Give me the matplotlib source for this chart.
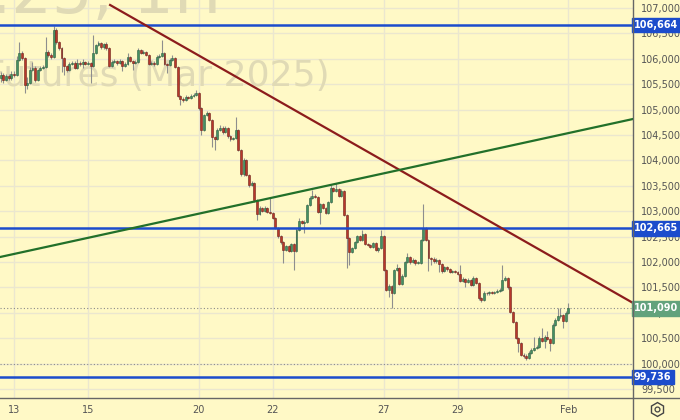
import matplotlib
matplotlib.use("Agg")
import matplotlib.pyplot as plt
import matplotlib.transforms as mtransforms
from matplotlib.lines import Line2D
import numpy as np

# ---------------- data (hourly candles, Jan 10 .. Feb 3) ----------------
first_open = 105620
closes = [
    105680, 105585, 105660, 105620, 105700,
    105680, 105975, 106115, 106015, 105485, 105525, 105780, 105820, 105585, 105780, 105820, 105840, 106135, 106075,
    106035, 106565, 106330, 106215, 106015, 105860, 105780, 105900, 105915, 105820, 105915, 105900, 105935, 105900,
    105915, 105860, 106115, 106270, 106310, 106230, 106290, 106215, 105860, 105935, 105955, 105915, 105955, 105860,
    105900, 106035, 105955, 105915, 105935, 106175, 106115, 106135, 106075, 105900, 105915, 105900, 106035, 106055,
    106115, 105900, 105880, 105975, 106015, 105840, 105270, 105210, 105190, 105250, 105230, 105270, 105285, 105325,
    105030, 104600, 104895, 104935, 104795, 104460, 104420, 104600, 104640, 104560, 104640, 104480, 104420, 104440,
    104600, 104205, 103730, 104010, 103715, 103515, 103555, 103220, 102945, 103065, 103005, 103065, 102985, 102965,
    102865, 102670, 102510, 102395, 102235, 102315, 102215, 102355, 102215, 102630, 102805, 102770, 102785, 103120,
    103260, 103300, 103280, 102985, 103140, 103065, 102965, 103180, 103455, 103400, 103435, 103300, 103400, 102925,
    102470, 102195, 102275, 102395, 102510, 102435, 102550, 102355, 102335, 102295, 102375, 102235, 102275, 102510,
    101845, 101450, 101530, 101390, 101845, 101880, 101565, 101725, 102000, 102100, 102000, 102040, 101980, 101985,
    102435, 102670, 102435, 102080, 102060, 102020, 102040, 101960, 101825, 101900, 101860, 101805, 101825, 101810,
    101765, 101625, 101665, 101605, 101645, 101545, 101685, 101585, 101290, 101250, 101390, 101385, 101410, 101390,
    101410, 101430, 101450, 101645, 101685, 101510, 101015, 100820, 100505, 100405, 100170, 100150, 100110, 100210,
    100270, 100305, 100325, 100505, 100445, 100525, 100485, 100405, 100760, 100860, 100935, 100955, 100840, 100995,
    101090,
]
highs = [
    105740, 105720, 105700, 105710, 105760,
    105760, 106060, 106330, 106150, 106040, 105640, 105830, 105930, 105850, 105800, 105860, 105880, 106430, 106170,
    106110, 106645, 106600, 106350, 106240, 106040, 105880, 105930, 105960, 105950, 105990, 105950, 105990, 105960,
    105950, 105940, 106470, 106300, 106350, 106330, 106320, 106330, 106240, 105970, 105990, 105980, 105990, 105980,
    105940, 106115, 106060, 105980, 105970, 106220, 106200, 106170, 106160, 106090, 105950, 105950, 106070, 106090,
    106370, 106130, 105920, 106010, 106075, 106030, 105860, 105290, 105240, 105280, 105270, 105300, 105320, 105385,
    105340, 105050, 104920, 104970, 104960, 104810, 104480, 104640, 104690, 104670, 104680, 104660, 104500, 104470,
    104855, 104620, 104230, 104050, 104030, 103740, 103600, 103570, 103240, 103100, 103090, 103100, 103090, 103280,
    102990, 102890, 102690, 102530, 102410, 102340, 102340, 102380, 102370, 102660, 102860, 102830, 102820, 103150,
    103300, 103420, 103330, 103300, 103170, 103160, 103090, 103210, 103515, 103480, 103555, 103450, 103430, 103420,
    102950, 102490, 102300, 102420, 102540, 102530, 102630, 102570, 102380, 102360, 102400, 102390, 102300, 102630,
    102530, 101860, 101560, 101550, 101870, 101960, 101900, 101760, 102020, 102180, 102120, 102070, 102060, 102010,
    102460, 103140, 102690, 102450, 102100, 102090, 102070, 102060, 101980, 101930, 101920, 101880, 101850, 101850,
    101830, 101950, 101700, 101690, 101680, 101670, 101720, 101710, 101600, 101310, 101420, 101410, 101430, 101420,
    101430, 101460, 101480, 101940, 101730, 101700, 101530, 101040, 100840, 100520, 100430, 100200, 100180, 100240,
    100300, 100520, 100360, 100540, 100700, 100560, 100640, 100510, 100790, 100900, 101090, 101090, 100980, 101030,
    101190,
]
lows = [
    105540, 105520, 105560, 105580, 105590,
    105640, 105660, 105950, 105980, 105330, 105400, 105500, 105750, 105550, 105560, 105760, 105800, 105820, 106040,
    106000, 106010, 106300, 106180, 105740, 105680, 105740, 105760, 105870, 105790, 105800, 105860, 105820, 105870,
    105870, 105530, 105840, 106090, 106250, 106190, 106200, 106180, 105830, 105830, 105910, 105880, 105890, 105760,
    105830, 105880, 105930, 105770, 105890, 105920, 106090, 106100, 106050, 105870, 105870, 105860, 105880, 106010,
    106040, 105880, 105720, 105860, 105960, 105810, 105240, 105090, 105150, 105170, 105200, 105200, 105250, 105270,
    105000, 104500, 104580, 104870, 104770, 104265, 104205, 104400, 104580, 104520, 104540, 104450, 104390, 104400,
    104420, 104180, 103700, 103700, 103690, 103480, 103490, 103190, 102830, 102930, 102980, 102980, 102960, 102940,
    102840, 102640, 102480, 102360, 101980, 102210, 102190, 102190, 101840, 102200, 102610, 102740, 102570, 102760,
    103100, 103240, 103250, 102960, 102740, 103040, 102940, 102950, 103160, 103370, 103380, 103270, 103280, 102900,
    101880, 101940, 102170, 102250, 102380, 102410, 102420, 102330, 102310, 102270, 102270, 102210, 102200, 102260,
    101820, 101420, 101310, 101095, 101370, 101820, 101540, 101540, 101700, 101980, 101960, 101980, 101950, 101960,
    101960, 102410, 102410, 101820, 101940, 101990, 101990, 101800, 101790, 101800, 101830, 101780, 101780, 101780,
    101740, 101600, 101600, 101500, 101580, 101520, 101520, 101560, 101260, 101220, 101230, 101360, 101360, 101370,
    101370, 101390, 101400, 101430, 101620, 101470, 100990, 100790, 100480, 100230, 100150, 100110, 100080, 100090,
    100190, 100250, 100280, 100300, 100420, 100300, 100460, 100250, 100380, 100740, 100840, 100900, 100700, 100820,
    100970,
]
day_labels = ["13", "15", "20", "22", "27", "29", "Feb"]
day_label_idx = [5, 33, 75, 103, 145, 173, 215]
levels_blue = [106664, 102665, 99736]
last_price = 101090
round_level = 100000
price_ticks = list(range(99500, 107001, 500))
# trend lines (candle index, price)
red_trend = ([41.4, 239.5], [107059, 101193])
green_trend = ([-0.3, 239.5], [102098, 104815])

# ---------------- styling ----------------
BG = "#fff9c6"
GRID = "#ebe7cf"
UP = "#449063"
UP_E = "#2c5e40"
DN = "#b8372b"
DN_E = "#6e2018"
WICK = "#8e8e8e"
BLUE = "#1c4ccc"
TXT = "#555555"
WM = "#e0dab5"

W, H = 680, 420
fig = plt.figure(figsize=(W / 100, H / 100), dpi=100, facecolor=BG)
ax = fig.add_axes([0, 22 / H, 633 / W, 398 / H], facecolor=BG)

opens = [first_open] + closes[:-1]
n = len(closes)
idx = np.arange(n)
o = np.array(opens, float)
c = np.array(closes, float)
hi = np.array(highs, float)
lo = np.array(lows, float)
up = c >= o

ax.set_xlim(-0.3, 239.47)
ax.set_ylim(99323, 107157)

# grid
for p in price_ticks:
    ax.axhline(p, color=GRID, lw=1.0, zorder=0)
for i in day_label_idx:
    ax.axvline(i, color=GRID, lw=1.0, zorder=0)

# watermark
ax.text(222 / 633, 1 - 13 / 398, "Si-3.25, 1H", transform=ax.transAxes, ha="right", va="baseline",
        fontsize=46, color=WM, zorder=0.5, clip_on=True)
ax.text(330 / 633, 1 - 86 / 398, "USD/RUB Futures (Mar 2025)", transform=ax.transAxes, ha="right",
        va="baseline", fontsize=26, color=WM, zorder=0.5, clip_on=True)

# dotted levels
ax.axhline(round_level, color="#8a8a8a", lw=0.8, ls=(0, (1, 2)), zorder=1)
ax.axhline(last_price, color="#8a8a8a", lw=0.8, ls=(0, (1, 2)), zorder=1)

# candles
ax.vlines(idx, lo, hi, color=WICK, lw=0.8, zorder=2)
body_h = np.maximum(np.abs(c - o), 12)
body_b = np.minimum(o, c)
ax.bar(idx[up], body_h[up], bottom=body_b[up], width=0.72, color=UP, edgecolor=UP_E, lw=0.4, zorder=3)
ax.bar(idx[~up], body_h[~up], bottom=body_b[~up], width=0.72, color=DN, edgecolor=DN_E, lw=0.4, zorder=3)

# lines
for lv in levels_blue:
    ax.axhline(lv, color=BLUE, lw=1.8, zorder=4)
ax.plot(red_trend[0], red_trend[1], color="#8c1c1c", lw=1.6, zorder=4)
ax.plot(green_trend[0], green_trend[1], color="#22702a", lw=1.6, zorder=4)

# axes
for s in ["top", "left", "right", "bottom"]:
    ax.spines[s].set_visible(False)
ax.yaxis.tick_right()
ax.set_yticks(price_ticks)
ax.set_yticklabels([f"{p:,}" for p in price_ticks])
ax.tick_params(axis="y", length=0, pad=6, labelsize=7, labelcolor=TXT)
ax.set_xticks(day_label_idx)
ax.set_xticklabels(day_labels)
ax.tick_params(axis="x", length=0, pad=5, labelsize=7, labelcolor=TXT)

# price boxes
btr = mtransforms.blended_transform_factory(ax.transAxes, ax.transData)
for lv in levels_blue:
    ax.text(1.0 + 1 / 633, lv, f"{lv:,}", transform=btr, ha="left", va="center", fontsize=7,
            color="white", fontweight="bold", clip_on=False, zorder=10,
            bbox=dict(boxstyle="square,pad=0.25", fc=BLUE, ec=BLUE))
ax.text(1.0 + 1 / 633, last_price, f"{last_price:,}", transform=btr, ha="left", va="center", fontsize=7,
        color="white", fontweight="bold", clip_on=False, zorder=10,
        bbox=dict(boxstyle="square,pad=0.25", fc="#62a27c", ec="#62a27c"))

# frame lines
fig.add_artist(Line2D([633 / W, 633 / W], [0, 1], color="#666666", lw=1.0))
fig.add_artist(Line2D([0, 1], [22 / H, 22 / H], color="#666666", lw=1.0))

# settings icon
ax2 = fig.add_axes([633 / W, 0, 47 / W, 22 / H])
ax2.set_axis_off()
ax2.set_xlim(0, 1)
ax2.set_ylim(0, 1)
ax2.plot([0.5], [0.5], marker="h", ms=10, mfc="none", mec="#444444", mew=1.0)
ax2.plot([0.5], [0.5], marker="o", ms=3.5, mfc="none", mec="#444444", mew=0.9)

fig.savefig("out.png", dpi=100, facecolor=BG)
